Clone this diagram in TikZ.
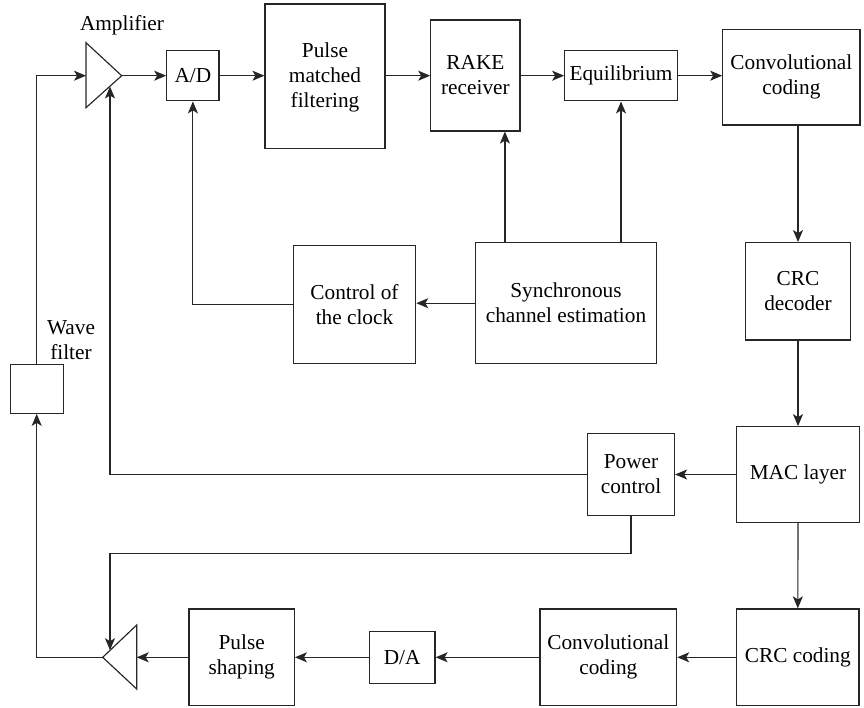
\documentclass[tikz,border=0pt]{standalone}
\usepackage{fontspec}
\setmainfont{Liberation Serif}
\usetikzlibrary{arrows.meta,calc}
\begin{document}
\begin{tikzpicture}[x=1pt,y=-1pt,
  txt/.style={font=\fontsize{21.3}{25}\selectfont,text=black,align=center},
  box/.style={txt,draw=black!85,line width=1.15pt,inner sep=0pt,fill=white},
  conn/.style={draw=black!85,line width=1.15pt},
  arr/.style={conn,-{Stealth[length=12pt,width=10pt,inset=3pt]}}]
\useasboundingbox (0,0) rectangle (864,708);
% top row
\node[box,minimum width=52.3pt,minimum height=50.3pt] (ad) at (192.9,75.7) {A/D};
\node[box,minimum width=120pt,minimum height=144.3pt] (pmf) at (325,76.2) {\rule{0pt}{18pt}Pulse\\matched\\filtering};
\node[box,minimum width=89.3pt,minimum height=111pt] (rake) at (475.4,75.5) {RAKE\\receiver};
\node[box,minimum width=112.6pt,minimum height=50.3pt] (eq) at (621,75.7) {Equilibrium};
\node[box,minimum width=137.3pt,minimum height=95.7pt] (conv1) at (791.4,77.2) {Convolutional\\coding};
% middle
\node[box,minimum width=122.4pt,minimum height=117.7pt] (coc) at (354.5,304.5) {Control of\\the clock};
\node[box,minimum width=181.4pt,minimum height=121pt] (sce) at (566,303.2) {Synchronous\\channel estimation};
\node[box,minimum width=104.7pt,minimum height=97.3pt] (crcd) at (798,291.3) {CRC\\decoder};
\node[box,minimum width=53pt,minimum height=49pt] (wf) at (36.7,388.8) {};
\node[txt] (wflbl) at (71,340) {Wave\\filter};
\node[box,minimum width=87pt,minimum height=82pt] (pc) at (631,474.5) {Power\\control};
\node[box,minimum width=122.3pt,minimum height=95.6pt] (mac) at (798,474.5) {MAC layer};
% bottom row
\node[box,minimum width=122.3pt,minimum height=96.7pt] (crcc) at (797.8,657.3) {CRC coding};
\node[box,minimum width=136.7pt,minimum height=96.7pt] (conv2) at (608.3,657.3) {Convolutional\\coding};
\node[box,minimum width=65.7pt,minimum height=51.7pt] (da) at (402.2,657.3) {D/A};
\node[box,minimum width=105.3pt,minimum height=96.7pt] (ps) at (241.7,657.3) {Pulse\\shaping};
% amplifiers
\coordinate (a1top) at (86,42.7);
\coordinate (a1bot) at (86,107.7);
\coordinate (a1apex) at (121.7,75.7);
\coordinate (a1in) at (86,75.7);
\coordinate (a1fb) at (110,86.5);
\draw[conn,line join=miter] (a1top) -- (a1apex) -- (a1bot) -- cycle;
\node[txt] (amplbl) at (122,25) {Amplifier};
\coordinate (a2top) at (136.7,625);
\coordinate (a2bot) at (136.7,689);
\coordinate (a2apex) at (102.7,657.3);
\coordinate (a2in) at (136.7,657.3);
\coordinate (a2fb) at (110,650.2);
\draw[conn,line join=miter] (a2top) -- (a2apex) -- (a2bot) -- cycle;
% top row connectors
\draw[arr] (wf.north) |- (a1in);
\draw[arr] (a1apex) -- (ad.west);
\draw[arr] (ad.east) -- (ad.east -| pmf.west);
\draw[arr] (ad.east -| pmf.east) -- (ad.east -| rake.west);
\draw[arr] (ad.east -| rake.east) -- (ad.east -| eq.west);
\draw[arr] (eq.east) -- (eq.east -| conv1.west);
% right column
\draw[arr] (conv1.south -| crcd.north) -- (crcd.north);
\draw[arr] (crcd.south) -- (mac.north);
\draw[arr] (mac.west) -- (pc.east);
\draw[arr] (mac.south) -- (crcc.north);
% sync estimation
\path (sce.north west) ++(30.2,0) coordinate (s1);
\draw[arr] (s1) -- (s1 |- rake.south);
\draw[arr] (sce.north -| eq.south) -- (eq.south);
\draw[arr] (sce.west) -- (sce.west -| coc.east);
\draw[arr] (coc.west) -| (ad.south);
% power control
\draw[arr] (pc.west) -| (a1fb);
\coordinate (pcturn) at (110,553.3);
\draw[arr] (pc.south) |- (pcturn) -- (a2fb);
% bottom row
\draw[arr] (crcc.west) -- (conv2.east);
\draw[arr] (conv2.west) -- (da.east);
\draw[arr] (da.west) -- (ps.east);
\draw[arr] (ps.west) -- (a2in);
\draw[arr] (a2apex) -| (wf.south);
\end{tikzpicture}
\end{document}
